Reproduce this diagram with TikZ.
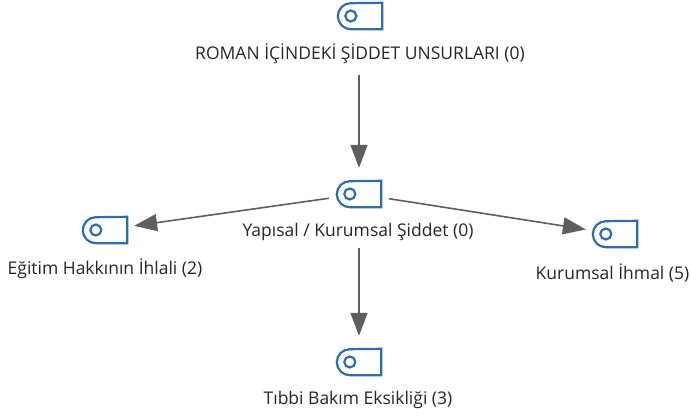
\documentclass[tikz,border=0pt]{standalone}
\usepackage{fontspec}
\setmainfont{Open Sans}
\usetikzlibrary{arrows.meta}
\definecolor{iconblue}{HTML}{2F6DAE}
\definecolor{linkgray}{HTML}{5F5F5F}
\definecolor{labelgray}{HTML}{262626}
\tikzset{
  iconbox/.style={rectangle,minimum width=44pt,minimum height=26pt,inner sep=0pt},
  icondraw/.style={iconblue,line width=2.2pt},
  lab/.style={text=labelgray,font=\fontsize{17.5pt}{20pt}\selectfont,inner sep=0pt},
  link/.style={draw=linkgray,line width=1.6pt,-{Triangle[length=23pt,width=17pt]}},
  gapped/.style={shorten <=8pt,shorten >=7pt}
}
\newcommand{\iconshape}[1]{\draw[icondraw] (#1.north east) -- (#1.south east) -- ([xshift=13pt]#1.south west) arc[start angle=270,end angle=90,radius=13pt] -- cycle ([xshift=13pt]#1.west) circle[radius=5.5pt];}
\begin{document}
\begin{tikzpicture}[x=1pt,y=-1pt]
\useasboundingbox (0,0) rectangle (690,415);
\node[iconbox] (a) at (360,16) {}; \iconshape{a}
\node[iconbox] (b) at (359,194) {}; \iconshape{b}
\node[iconbox] (l) at (105,230) {}; \iconshape{l}
\node[iconbox] (r) at (615,234) {}; \iconshape{r}
\node[iconbox] (d) at (359,362) {}; \iconshape{d}
\node[lab] (at) at (360,54) {ROMAN İÇİNDEKİ ŞİDDET UNSURLARI (0)};
\node[lab] (bt) at (358,232) {Yapısal / Kurumsal Şiddet (0)};
\node[lab] (lt) at (105,269) {Eğitim Hakkının İhlali (2)};
\node[lab] (rt) at (612.5,273) {Kurumsal İhmal (5)};
\node[lab] (dt) at (358,400) {Tıbbi Bakım Eksikliği (3)};
\coordinate (a1) at ([yshift=-11pt]at.south -| b.north);
\draw[link] (a1) -- ([yshift=13pt]b.north);
\draw[link,gapped] (b) -- (l);
\draw[link,gapped] (b) -- (r);
\coordinate (b1) at ([yshift=-7pt]bt.south -| b.south);
\draw[link] (b1) -- ([yshift=13pt]d.north);
\end{tikzpicture}
\end{document}
